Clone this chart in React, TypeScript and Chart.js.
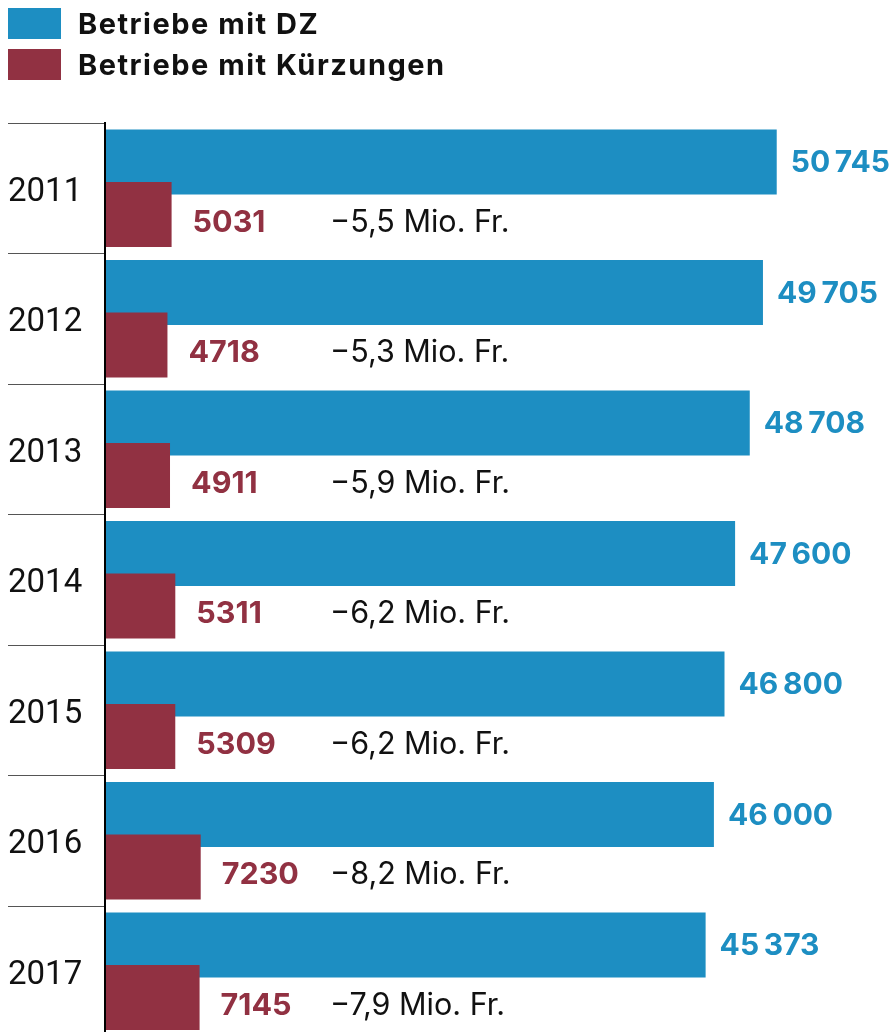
import React, { useEffect, useRef } from "react";
import { Chart, registerables } from "chart.js";

Chart.register(...registerables);

// ---- data ----
const YEARS = ["2011", "2012", "2013", "2014", "2015", "2016", "2017"];
const BETRIEBE_DZ = [50745, 49705, 48708, 47600, 46800, 46000, 45373];
const BETRIEBE_KUERZUNGEN = [5031, 4718, 4911, 5311, 5309, 7230, 7145];
const KUERZUNG_MIO_FR = [-5.5, -5.3, -5.9, -6.2, -6.2, -8.2, -7.9];
const SPACER = [0, 0, 0, 0, 0, 0, 0];

const LABEL_DZ = "Betriebe mit DZ";
const LABEL_KUERZ = "Betriebe mit Kürzungen";

const X_MAX = 59000;
const MIO_COLUMN_VALUE = 17000;

const BLUE = "#1d8ec2";
const RED = "#913142";
const INK = "#111111";

const fmtCount = (n: number) =>
  n >= 10000 ? String(n).replace(/\B(?=(\d{3})+(?!\d))/g, "\u2009") : String(n);
const fmtMio = (v: number) =>
  (v < 0 ? "\u2212" : "") + Math.abs(v).toFixed(1).replace(".", ",") + " Mio. Fr.";

const labelsPlugin = {
  id: "barLabels",
  afterDatasetsDraw(chart: any) {
    const ctx = chart.ctx;
    const redMeta = chart.getDatasetMeta(1);
    const blueMeta = chart.getDatasetMeta(2);
    const xScale = chart.scales.x;
    ctx.save();
    ctx.textBaseline = "middle";
    ctx.textAlign = "left";
    ctx.font = "700 30px Inter";
    ctx.fillStyle = BLUE;
    blueMeta.data.forEach((el: any, i: number) => {
      ctx.fillText(fmtCount(BETRIEBE_DZ[i]), el.x + 14, el.y + 1);
    });
    ctx.font = "700 30.5px Inter";
    ctx.fillStyle = RED;
    redMeta.data.forEach((el: any, i: number) => {
      ctx.fillText(fmtCount(BETRIEBE_KUERZUNGEN[i]), el.x + 21, el.y + 8);
    });
    ctx.font = "400 30.5px Inter";
    ctx.fillStyle = INK;
    const mx = xScale.getPixelForValue(MIO_COLUMN_VALUE);
    redMeta.data.forEach((el: any, i: number) => {
      ctx.fillText(fmtMio(KUERZUNG_MIO_FR[i]), mx, el.y + 8);
    });
    ctx.restore();
  },
};

export default function App() {
  const canvasRef = useRef<HTMLCanvasElement>(null);

  useEffect(() => {
    if (!canvasRef.current) return;
    const chart = new Chart(canvasRef.current, {
      type: "bar",
      data: {
        labels: YEARS,
        datasets: [
          {
            label: "spacer",
            data: SPACER,
            stack: "dz",
            order: 0,
            backgroundColor: "rgba(0,0,0,0)",
            borderWidth: 0,
          },
          {
            label: LABEL_KUERZ,
            data: BETRIEBE_KUERZUNGEN,
            stack: "k",
            order: 1,
            backgroundColor: RED,
            borderWidth: 0,
          },
          {
            label: LABEL_DZ,
            data: BETRIEBE_DZ,
            stack: "dz",
            order: 2,
            backgroundColor: BLUE,
            borderWidth: 0,
          },
        ],
      },
      options: {
        indexAxis: "y",
        animation: false,
        responsive: true,
        maintainAspectRatio: false,
        events: [],
        datasets: {
          bar: {
            categoryPercentage: 0.8046,
            barPercentage: 1.238,
          },
        },
        layout: { padding: { top: 123, left: 8, right: 5, bottom: 3.5 } },
        plugins: {
          legend: { display: false },
          tooltip: { enabled: false },
        },
        scales: {
          x: {
            type: "linear",
            min: 0,
            max: X_MAX,
            display: false,
          },
          y: {
            type: "category",
            position: "left",
            offset: true,
            grid: {
              offset: true,
              drawOnChartArea: false,
              drawTicks: true,
              tickLength: 97,
              color: "#555555",
              lineWidth: 1,
            },
            border: { display: true, color: "#000000", width: 2, z: 1 },
            ticks: {
              crossAlign: "far",
              padding: 0,
              labelOffset: 4,
              color: INK,
              font: { family: "Roboto", size: 33, weight: "normal" },
            },
            afterFit: (s: any) => {
              s.width = 97;
              s.paddingTop = 0;
              s.paddingBottom = 0;
            },
          },
        },
      },
      plugins: [labelsPlugin],
    } as any);
    return () => chart.destroy();
  }, []);

  const legendItems = [
    { label: LABEL_DZ, color: BLUE },
    { label: LABEL_KUERZ, color: RED },
  ];

  return (
    <div
      style={{
        position: "fixed",
        left: 0,
        top: 0,
        width: 891,
        height: 1032,
        overflow: "hidden",
        background: "#ffffff",
      }}
    >
      <div style={{ position: "absolute", left: 0, top: 0, width: 891, height: 1040 }}>
        <canvas ref={canvasRef} />
      </div>
      {legendItems.map((item, i) => (
        <div
          key={item.label}
          style={{
            position: "absolute",
            left: 8,
            top: 8 + i * 41,
            height: 31,
            display: "flex",
            alignItems: "center",
          }}
        >
          <span
            style={{ display: "inline-block", width: 53, height: 31, background: item.color }}
          />
          <span
            style={{
              marginLeft: 17,
              fontFamily: "Inter",
              fontWeight: 700,
              fontSize: 29,
              letterSpacing: "1.5px",
              lineHeight: "31px",
              color: INK,
              whiteSpace: "nowrap",
            }}
          >
            {item.label}
          </span>
        </div>
      ))}
    </div>
  );
}
